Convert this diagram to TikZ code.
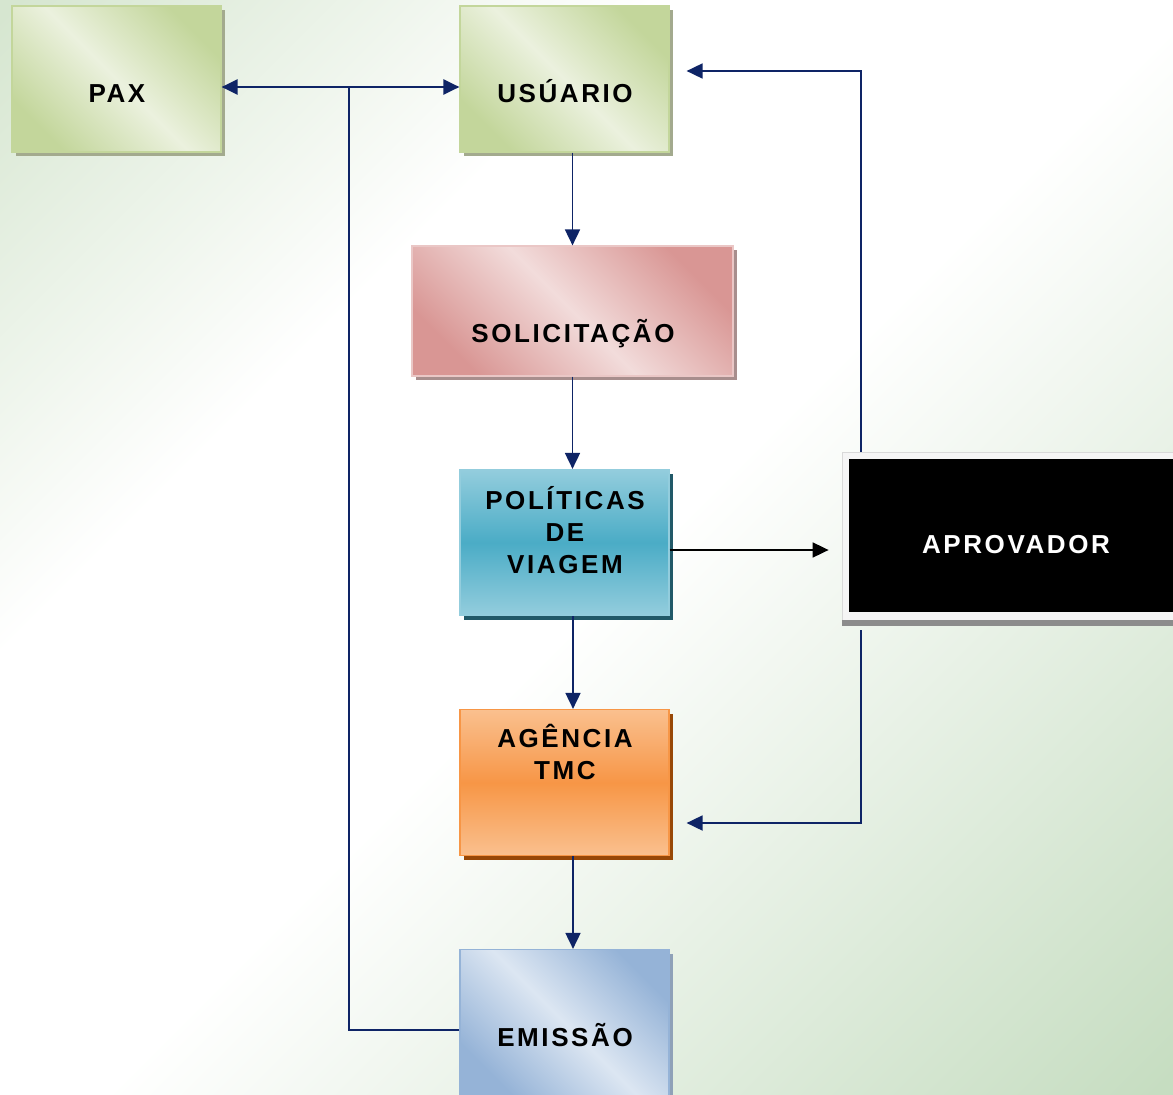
\documentclass[tikz,border=0pt]{standalone}
\usepackage{fontspec}
\setmainfont{Liberation Sans}
\newfontfamily\boxfont[LetterSpace=10]{Liberation Sans}
\usetikzlibrary{arrows.meta,shadows}
\definecolor{bgA}{HTML}{D6E6D0}
\definecolor{bgB}{HTML}{C6DDC1}
\definecolor{navy}{HTML}{0E2466}
\definecolor{grL}{HTML}{EBF1DE}
\definecolor{grD}{HTML}{C3D69B}
\definecolor{grS}{HTML}{A3AA8E}
\definecolor{pkL}{HTML}{F2DCDB}
\definecolor{pkD}{HTML}{D99694}
\definecolor{pkS}{HTML}{A88E8D}
\definecolor{blL}{HTML}{93CDDD}
\definecolor{blD}{HTML}{4BACC6}
\definecolor{blS}{HTML}{215968}
\definecolor{orL}{HTML}{FAC08F}
\definecolor{orD}{HTML}{F79646}
\definecolor{orS}{HTML}{984807}
\definecolor{emL}{HTML}{DCE6F2}
\definecolor{emD}{HTML}{95B3D7}
\definecolor{emS}{HTML}{8FA1B8}
\pgfdeclarehorizontalshading{bgshade}{100bp}{color(0bp)=(bgA); color(15bp)=(bgA); color(35bp)=(white); color(52bp)=(white); color(85bp)=(bgB); color(100bp)=(bgB)}
\begin{document}
\begin{tikzpicture}[x=1pt,y=-1pt,
  box/.style={rectangle, minimum width=209pt, minimum height=146pt, inner sep=0pt, line width=1.2pt},
  boxshadow/.style={general shadow={fill=#1, shadow xshift=4pt, shadow yshift=-4pt}},
  diag/.style n args={2}{shade, top color=#2, bottom color=#2, middle color=#1, shading angle=-45},
  txt/.style={font=\boxfont\bfseries\fontsize{26}{32}\selectfont, inner sep=0pt, text height=18pt, text depth=0pt},
  txtm/.style={font=\boxfont\bfseries\fontsize{26}{32}\selectfont, inner sep=0pt, align=center},
  arr/.style={draw=navy, line width=1.8pt, -{Triangle[length=16pt,width=15pt]}},
  arrb/.style={draw=navy, line width=2.2pt, {Triangle[length=16pt,width=15pt]}-{Triangle[length=16pt,width=15pt]}},
  ln/.style={draw=navy, line width=1.8pt}]
\useasboundingbox (0,0) rectangle (1173,1095);
\shade[shading=bgshade, shading angle=-45] (0,0) rectangle (1173,1095);

% boxes
\node[box, boxshadow=grS, diag={grL}{grD}, draw=grD] (pax) at (116.5,79) {};
\node[box, boxshadow=grS, diag={grL}{grD}, draw=grD] (usu) at (564.5,79) {};
\node[box, minimum width=321pt, minimum height=130pt, boxshadow=pkS, diag={pkL}{pkD}, draw=pkL!70!pkD] (sol) at (572.5,311) {};
\node[box, boxshadow=blS, shade, top color=blL, bottom color=blL, middle color=blD, draw=blL] (pol) at (564.5,542.5) {};
\node[box, boxshadow=orS, shade, top color=orL, bottom color=orL, middle color=orD, draw=orD] (age) at (564.5,782.5) {};
\node[box, boxshadow=emS, diag={emL}{emD}, draw=emD] (emi) at (564.5,1022.5) {};

% aprovador
\node[rectangle, minimum width=331pt, minimum height=168pt, inner sep=0pt, fill=black!4, draw=black!15, line width=0.8pt] (frame) at (1007.5,536) {};
\fill[black!45] (frame.south west) rectangle ++(331,6);
\node[rectangle, minimum width=324pt, minimum height=153pt, inner sep=0pt, fill=black] (apr) at (1011,535.5) {};

% texts
\node[txt] (tpax) at (117,93) {PAX};
\node[txt] (tusu) at (565,93) {USÚARIO};
\node[txt] (tsol) at (573,333) {SOLICITAÇÃO};
\node[txtm] (tpol) at (565,530) {POLÍTICAS\\DE\\VIAGEM};
\node[txtm] (tage) at (565,752) {AGÊNCIA\\TMC};
\node[txt] (temi) at (565,1037) {EMISSÃO};
\node[txt, text=white] (tapr) at (1016,544) {APROVADOR};

% connectors
\coordinate (j) at (349,87);
\coordinate (rx) at (861,0);
\draw[arrb] ([yshift=-8pt]pax.east) -- ([yshift=-8pt]usu.west);
\draw[ln] ([yshift=-7.5pt]emi.west) -| (j);
\draw[arr] (sol.north |- usu.south) -- (sol.north);
\draw[arr] (sol.south) -- (sol.south |- pol.north);
\draw[arr] ([xshift=8.5pt]pol.south) -- ([xshift=8.5pt]age.north);
\draw[arr] ([xshift=8.5pt]age.south) -- ([xshift=8.5pt]emi.north);
\draw[draw=black, line width=1.8pt, -{Triangle[length=16pt,width=15pt]}, shorten >=13pt] ([yshift=-7.5pt]pol.east) -- ([yshift=-7.5pt]pol.east -| frame.west);
\draw[arr, shorten >=17pt] (frame.north -| rx) |- ([yshift=8pt]usu.east);
\draw[arr, shorten >=17pt] ([yshift=-10pt]frame.south -| rx) |- ([yshift=-40.5pt]age.east);
\end{tikzpicture}
\end{document}
